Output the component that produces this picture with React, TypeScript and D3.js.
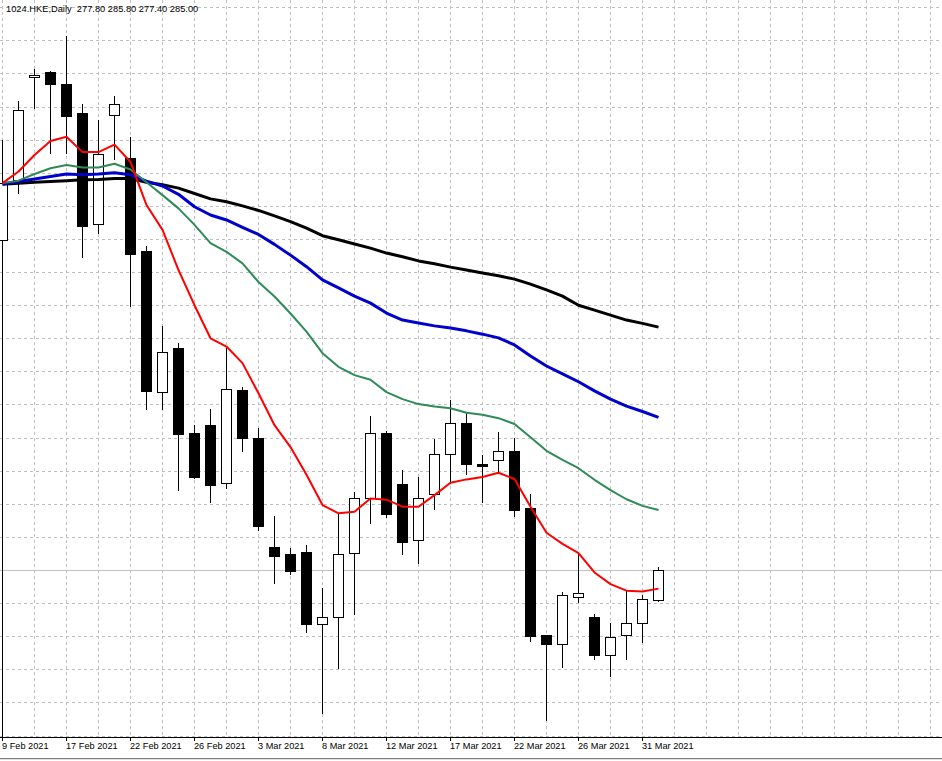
import React from 'react';
import * as d3 from 'd3';

// chart header text (symbol, period, last bar OHLC)
const TITLE = '1024.HKE,Daily  277.80 285.80 277.40 285.00';

// daily bars, oldest first
const open = [364.8, 379.3, 404.1, 405.3, 402.4, 395.4, 368.6, 394.9, 384.5, 362.1, 327.9, 338.6, 318.1, 320.0, 306.0, 328.5, 316.8, 290.5, 288.9, 289.3, 271.9, 273.6, 289.0, 302.3, 318.1, 305.8, 292.2, 303.3, 313.0, 320.5, 310.6, 311.5, 313.7, 299.9, 269.2, 267.2, 278.5, 273.6, 264.4, 269.2, 272.1, 277.8];
const high = [388.9, 398.4, 406.0, 405.6, 414.1, 397.6, 393.8, 399.6, 389.6, 363.2, 344.0, 339.8, 320.0, 323.9, 338.7, 329.2, 319.2, 298.1, 290.2, 291.0, 280.6, 298.5, 303.8, 322.2, 318.6, 309.2, 307.5, 316.7, 326.1, 322.9, 312.7, 318.4, 316.9, 303.3, 269.2, 279.7, 289.2, 274.3, 272.2, 279.9, 279.0, 285.8];
const low = [363.1, 376.1, 396.7, 385.9, 385.9, 360.7, 366.4, 384.4, 348.8, 324.0, 324.0, 304.3, 307.2, 301.5, 304.9, 313.8, 294.7, 281.9, 284.0, 270.1, 250.5, 261.4, 274.4, 296.4, 297.9, 288.9, 286.8, 299.7, 306.1, 308.3, 301.5, 308.7, 298.1, 267.9, 248.7, 261.6, 277.3, 263.4, 259.5, 263.6, 267.7, 277.4];
const close = [378.5, 396.2, 404.6, 402.4, 394.8, 368.2, 385.5, 397.6, 361.4, 328.3, 337.6, 317.9, 307.5, 305.6, 328.7, 317.0, 295.7, 288.5, 284.8, 272.0, 273.6, 288.9, 302.3, 318.0, 298.6, 291.8, 302.3, 313.0, 320.5, 310.5, 310.1, 313.7, 299.6, 269.1, 267.2, 278.9, 279.4, 264.5, 268.9, 272.1, 277.9, 285.0];

// moving averages, one value per bar
const maRed = [378.5, 381.3, 385.3, 388.7, 389.7, 386.0, 386.0, 387.8, 383.6, 373.2, 367.2, 357.5, 349.0, 341.0, 339.0, 335.0, 327.7, 320.0, 314.7, 308.0, 300.7, 298.7, 299.1, 302.3, 302.0, 300.3, 300.3, 303.1, 306.1, 306.9, 307.5, 308.5, 307.0, 300.3, 294.0, 291.3, 289.1, 284.4, 281.6, 280.0, 279.8, 280.5];
const maGreen = [378.5, 379.1, 380.7, 382.1, 382.9, 382.3, 382.3, 383.2, 381.8, 378.7, 375.6, 372.4, 368.4, 364.0, 361.9, 359.1, 354.6, 351.1, 347.0, 342.6, 337.4, 334.1, 332.1, 331.0, 328.0, 326.3, 325.1, 324.5, 324.1, 323.0, 322.5, 321.7, 320.3, 317.1, 313.8, 311.6, 309.6, 306.8, 304.3, 302.1, 300.5, 299.5];
const maBlue = [378.3, 378.9, 379.5, 380.1, 380.7, 380.5, 380.7, 381.0, 380.5, 379.0, 377.8, 375.8, 372.8, 370.8, 369.6, 367.8, 366.1, 363.7, 361.1, 358.3, 355.1, 353.2, 351.2, 349.5, 347.1, 345.4, 344.7, 344.0, 343.5, 342.8, 342.0, 341.1, 339.4, 336.7, 334.3, 332.4, 330.5, 328.3, 326.3, 324.6, 323.3, 321.9];
const maBlack = [378.2, 378.5, 378.7, 378.9, 379.1, 379.3, 379.4, 379.6, 379.6, 378.7, 378.1, 377.3, 376.0, 374.7, 374.0, 373.0, 371.9, 370.6, 369.2, 367.6, 365.8, 364.8, 363.8, 362.8, 361.6, 360.7, 359.7, 359.0, 358.2, 357.5, 356.8, 356.1, 355.3, 354.1, 352.7, 351.2, 349.0, 347.8, 346.6, 345.4, 344.6, 343.7];

// time axis labels, one every 4 bars starting at the first bar
const dateLabels = ['9 Feb 2021', '17 Feb 2021', '22 Feb 2021', '26 Feb 2021', '3 Mar 2021', '8 Mar 2021', '12 Mar 2021', '17 Mar 2021', '22 Mar 2021', '26 Mar 2021', '31 Mar 2021'];
const LABEL_EVERY = 4;

const bidPrice = close[close.length - 1];

const App: React.FC = () => {
    const width = 942;
    const height = 761;
    const plotBottom = 737;
    const font = "'Liberation Sans', Arial, sans-serif";

    // 16px per bar, first bar sits on the left edge
    const xScale = d3.scaleLinear().domain([0, 1]).range([2, 18]);
    const yScale = d3.scaleLinear().domain([244.64, 422.76]).range([plotBottom, 0]);

    const px = (i: number) => Math.round(xScale(i)) + 0.5;
    const py = (v: number) => Math.round(yScale(v)) + 0.5;

    const barCount = close.length;
    const lastGridBar = Math.floor((width - xScale(0)) / (xScale(1) - xScale(0)));
    const vGrid = d3.range(0, lastGridBar + 1, 2);
    const hGrid = d3.range(245, 423, 8);

    const maLine = d3.line<number>()
        .x((_, i) => xScale(i) + 0.5)
        .y(d => yScale(d));

    const mas = [
        { data: maBlack, color: '#000000', w: 3 },
        { data: maBlue, color: '#0000cd', w: 3 },
        { data: maGreen, color: '#2e8b57', w: 2 },
        { data: maRed, color: '#ff0000', w: 2 },
    ];

    return (
        <div style={{ position: 'fixed', left: 0, top: 0, width, height, background: '#fff' }}>
            <svg width={width} height={height} style={{ display: 'block' }}>
                <rect x={0} y={0} width={width} height={height} fill="#fff" />

                {/* grid */}
                <g stroke="#c0c0c0" strokeWidth={1} strokeDasharray="3,3" shapeRendering="crispEdges">
                    {vGrid.map(i => (
                        <line key={'v' + i} x1={px(i)} x2={px(i)} y1={0} y2={plotBottom} />
                    ))}
                    {hGrid.map(p => (
                        <line key={'h' + p} x1={0} x2={width} y1={py(p)} y2={py(p)} />
                    ))}
                </g>

                {/* bid line */}
                <line x1={0} x2={width} y1={py(bidPrice)} y2={py(bidPrice)} stroke="#c0c0c0" shapeRendering="crispEdges" />

                {/* left edge line under the first (clipped) bar */}
                <line x1={px(0)} x2={px(0)} y1={Math.round(yScale(high[0]))} y2={plotBottom} stroke="#000" shapeRendering="crispEdges" />

                {/* candles */}
                <g shapeRendering="crispEdges">
                    {close.map((c, i) => {
                        const o = open[i];
                        const cx = px(i);
                        const top = Math.round(yScale(Math.max(o, c))) + 0.5;
                        const bot = Math.round(yScale(Math.min(o, c))) + 0.5;
                        const bull = c >= o;
                        return (
                            <g key={i}>
                                <line x1={cx} x2={cx} y1={Math.round(yScale(high[i]))} y2={Math.round(yScale(low[i])) + 1} stroke="#000" />
                                <rect x={cx - 5} y={top} width={10} height={Math.max(bot - top, 1)}
                                    fill={bull ? '#fff' : '#000'} stroke="#000" />
                            </g>
                        );
                    })}
                </g>

                {/* moving averages */}
                {mas.map((m, k) => (
                    <path key={k} d={maLine(m.data) || ''} fill="none" stroke={m.color} strokeWidth={m.w}
                        strokeLinejoin="round" />
                ))}

                {/* title */}
                <text x={6} y={12} fontFamily={font} fontSize={9.3} fill="#000" style={{ whiteSpace: 'pre' }}>{TITLE}</text>

                {/* time axis */}
                <rect x={0} y={plotBottom + 1} width={width} height={height - plotBottom - 1} fill="#fff" />
                <line x1={0} x2={width} y1={plotBottom + 0.5} y2={plotBottom + 0.5} stroke="#000" shapeRendering="crispEdges" />
                {dateLabels.map((label, k) => {
                    const i = k * LABEL_EVERY;
                    if (i >= barCount) return null;
                    return (
                        <g key={label}>
                            <line x1={px(i)} x2={px(i)} y1={plotBottom} y2={plotBottom + 4} stroke="#000" shapeRendering="crispEdges" />
                            <text x={Math.round(xScale(i))} y={749} fontFamily={font} fontSize={9.2} fill="#000">{label}</text>
                        </g>
                    );
                })}
                <line x1={0} x2={width} y1={758.5} y2={758.5} stroke="#808080" shapeRendering="crispEdges" />
                <line x1={0} x2={width} y1={759.5} y2={759.5} stroke="#e0e0e0" shapeRendering="crispEdges" />
            </svg>
        </div>
    );
};

export default App;
